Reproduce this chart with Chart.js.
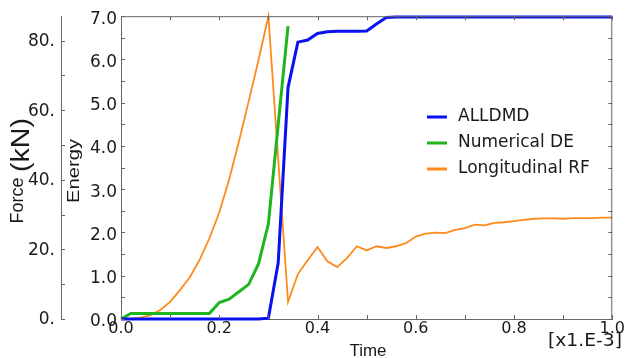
<!DOCTYPE html>
<html>
<head>
<meta charset="utf-8">
<script src="https://cdn.jsdelivr.net/npm/chart.js@4.4.0/dist/chart.umd.min.js"></script>
<style>
    html, body { margin: 0; padding: 0; background: #fff; }
    #wrap { width: 625px; height: 358px; }
</style>
</head>
<body>
<div id="wrap"><canvas id="chart" width="625" height="358"></canvas></div>
<script>
// Time samples [x1.E-3]
const timeSteps = [
    0.00, 0.02, 0.04, 0.06, 0.08, 0.10, 0.12, 0.14, 0.16, 0.18,
    0.20, 0.22, 0.24, 0.26, 0.28, 0.30, 0.32, 0.34, 0.36, 0.38,
    0.40, 0.42, 0.44, 0.46, 0.48, 0.50, 0.52, 0.54, 0.56, 0.58,
    0.60, 0.62, 0.64, 0.66, 0.68, 0.70, 0.72, 0.74, 0.76, 0.78,
    0.80, 0.82, 0.84, 0.86, 0.88, 0.90, 0.92, 0.94, 0.96, 0.98,
    1.00
];

// Damage dissipation energy (ALLDMD)
const alldmd = [
    0, 0, 0, 0, 0, 0, 0, 0, 0, 0,
    0, 0, 0, 0, 0, 0.02, 1.3, 5.35, 6.4, 6.45,
    6.6, 6.64, 6.65, 6.65, 6.65, 6.66, 6.82, 6.97, 6.98, 6.98,
    6.98, 6.98, 6.98, 6.98, 6.98, 6.98, 6.98, 6.98, 6.98, 6.98,
    6.98, 6.98, 6.98, 6.98, 6.98, 6.98, 6.98, 6.98, 6.98, 6.98,
    6.98
];

// Numerical dissipated energy, stops at 0.34
const numericalDE = [
    0, 0.13, 0.13, 0.13, 0.13, 0.13, 0.13, 0.13, 0.13, 0.13,
    0.38, 0.46, 0.63, 0.8, 1.28, 2.2, 4.5, 6.77
];

// Longitudinal reaction force (kN)
const longitudinalRF = [
    0, 0.1, 0.4, 1.1, 2.6, 4.9, 8.3, 12.0, 17.0, 23.2,
    30.6, 40.0, 51.0, 62.6, 74.5, 87.0, 46.0, 4.9, 12.9, 16.9,
    20.7, 16.6, 14.9, 17.5, 20.9, 19.7, 20.9, 20.4, 20.9, 21.8,
    23.7, 24.5, 24.8, 24.7, 25.6, 26.1, 27.1, 26.9, 27.6, 27.8,
    28.1, 28.5, 28.8, 28.9, 28.9, 28.8, 29.0, 29.0, 29.0, 29.1,
    29.1
];

const timeTicks = [0, 0.1, 0.2, 0.3, 0.4, 0.5, 0.6, 0.7, 0.8, 0.9, 1.0];
const energyTicks = [0, 0.5, 1, 1.5, 2, 2.5, 3, 3.5, 4, 4.5, 5, 5.5, 6, 6.5, 7];
const forceTicks = [0, 10, 20, 30, 40, 50, 60, 70, 80];

const FONT = '"DejaVu Sans", Verdana, sans-serif';
const TITLE_FONT = '"Liberation Sans", Arial, sans-serif';
const AXIS_COLOR = '#666';
const TEXT_COLOR = '#1a1a1a';

function toPoints(xs, ys) {
    return ys.map((y, i) => ({ x: xs[i], y: y }));
}

// draw text stretched to a given width
function fitText(ctx, text, x, y, font, width, angle) {
    ctx.save();
    ctx.translate(x, y);
    ctx.rotate(angle);
    ctx.font = font;
    const w = ctx.measureText(text).width;
    ctx.scale(width / w, 1);
    ctx.textAlign = 'center';
    ctx.textBaseline = 'middle';
    ctx.fillStyle = TEXT_COLOR;
    ctx.fillText(text, 0, 0);
    ctx.restore();
}

// frame, inward tick marks, titles and legend
const framePlugin = {
    id: 'frame',
    afterDraw(chart) {
        const ctx = chart.ctx;
        const area = chart.chartArea;
        const x = chart.scales.x;
        const yE = chart.scales.yE;
        const yF = chart.scales.yF;

        ctx.save();
        ctx.strokeStyle = AXIS_COLOR;
        ctx.lineWidth = 1;
        ctx.beginPath();
        ctx.moveTo(area.left, area.top + 0.5);
        ctx.lineTo(area.right, area.top + 0.5);
        ctx.moveTo(area.right - 0.5, area.top);
        ctx.lineTo(area.right - 0.5, area.bottom);

        timeTicks.forEach(v => {
            const px = Math.round(x.getPixelForValue(v)) + 0.5;
            ctx.moveTo(px, area.bottom);
            ctx.lineTo(px, area.bottom - 4);
            ctx.moveTo(px, area.top);
            ctx.lineTo(px, area.top + 4);
        });
        energyTicks.forEach(v => {
            const py = Math.round(yE.getPixelForValue(v)) + 0.5;
            ctx.moveTo(area.left, py);
            ctx.lineTo(area.left + 4, py);
            ctx.moveTo(area.right, py);
            ctx.lineTo(area.right - 4, py);
        });
        forceTicks.forEach(v => {
            const py = Math.round(yF.getPixelForValue(v)) + 0.5;
            ctx.moveTo(yF.right, py);
            ctx.lineTo(yF.right + 4, py);
        });
        ctx.stroke();

        // axis titles
        fitText(ctx, 'Force', 18, 200.5, '18px ' + TITLE_FONT, 46, -Math.PI / 2);
        fitText(ctx, '(kN)', 21.5, 145, '26px ' + TITLE_FONT, 54, -Math.PI / 2);
        fitText(ctx, 'Energy', 75, 171, '16px ' + TITLE_FONT, 64, -Math.PI / 2);
        fitText(ctx, 'Time', 368, 351, '17px ' + TITLE_FONT, 37, 0);
        fitText(ctx, '[x1.E-3]', 585, 341, '18px ' + FONT, 74, 0);

        // legend
        const rows = [117, 143, 169];
        ctx.font = '17px ' + FONT;
        ctx.textAlign = 'left';
        ctx.textBaseline = 'middle';
        chart.data.datasets.forEach((ds, i) => {
            ctx.strokeStyle = ds.borderColor;
            ctx.lineWidth = 3;
            ctx.beginPath();
            ctx.moveTo(427, rows[i]);
            ctx.lineTo(447, rows[i]);
            ctx.stroke();
            ctx.fillStyle = TEXT_COLOR;
            ctx.fillText(ds.label, 458, rows[i]);
        });
        ctx.restore();
    }
};

const noGrid = { display: false, drawTicks: false, tickLength: 0 };

const ctx = document.getElementById('chart').getContext('2d');
new Chart(ctx, {
    type: 'line',
    data: {
        datasets: [{
            label: 'ALLDMD',
            data: toPoints(timeSteps, alldmd),
            yAxisID: 'yE',
            borderColor: '#0a10f0',
            borderWidth: 3
        }, {
            label: 'Numerical DE',
            data: toPoints(timeSteps, numericalDE),
            yAxisID: 'yE',
            borderColor: '#1fb51f',
            borderWidth: 3
        }, {
            label: 'Longitudinal RF',
            data: toPoints(timeSteps, longitudinalRF),
            yAxisID: 'yF',
            borderColor: '#ff8a1c',
            borderWidth: 1.8
        }]
    },
    options: {
        responsive: false,
        animation: false,
        layout: { padding: { top: 15, right: 12, left: 0, bottom: 0 } },
        elements: {
            point: { radius: 0 },
            line: { tension: 0 }
        },
        datasets: { line: { clip: false } },
        plugins: {
            legend: { display: false },
            tooltip: { enabled: false }
        },
        scales: {
            x: {
                type: 'linear',
                position: 'bottom',
                min: 0,
                max: 1,
                ticks: {
                    stepSize: 0.2,
                    callback: v => v.toFixed(1),
                    font: { family: FONT, size: 16 },
                    color: TEXT_COLOR,
                    padding: 0,
                    maxRotation: 0
                },
                grid: noGrid,
                border: { color: AXIS_COLOR },
                afterFit: s => { s.height = 39; }
            },
            yE: {
                position: 'left',
                weight: 0,
                min: 0,
                max: 7,
                ticks: {
                    stepSize: 1,
                    callback: v => v.toFixed(1),
                    font: { family: FONT, size: 17 },
                    color: TEXT_COLOR,
                    padding: 4,
                    labelOffset: 3
                },
                grid: noGrid,
                border: { color: AXIS_COLOR },
                afterFit: s => { s.width = 60; }
            },
            yF: {
                position: 'left',
                weight: 1,
                min: 0,
                max: 87,
                ticks: {
                    stepSize: 20,
                    includeBounds: false,
                    callback: v => v + '.',
                    font: { family: FONT, size: 17 },
                    color: TEXT_COLOR,
                    padding: 6,
                    labelOffset: 1
                },
                grid: noGrid,
                border: { color: AXIS_COLOR },
                afterFit: s => { s.width = 61; }
            }
        }
    },
    plugins: [framePlugin]
});
</script>
</body>
</html>
